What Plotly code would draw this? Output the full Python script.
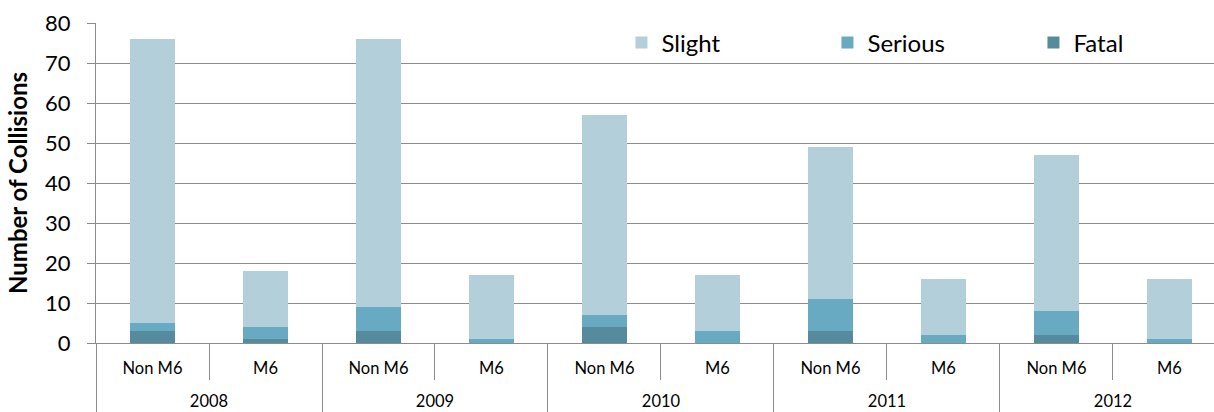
import plotly.graph_objects as go

# Collisions by year and road type, split by severity
years = ["2008", "2008", "2009", "2009", "2010", "2010", "2011", "2011", "2012", "2012"]
road = ["Non M6", "M6"] * 5
fatal = [3, 1, 3, 0, 4, 0, 3, 0, 2, 0]
serious = [2, 3, 6, 1, 3, 3, 8, 2, 6, 1]
slight = [71, 14, 67, 16, 50, 14, 38, 14, 39, 15]

colors = {"Slight": "#B3CFDA", "Serious": "#67AAC2", "Fatal": "#558B9C"}
font_family = "Lato, 'Open Sans', sans-serif"
axis_grey = "#8C8C8C"

# inner labels get a blank second line so the year row sits lower
road_labels = [r + "<br>\u00a0" for r in road]
x = [years, road_labels]

fig = go.Figure()
for name, vals in [("Fatal", fatal), ("Serious", serious), ("Slight", slight)]:
    fig.add_trace(go.Bar(
        x=x, y=vals, name=name,
        marker=dict(color=colors[name], line=dict(width=0)),
    ))

fig.update_layout(
    width=1214, height=412,
    margin=dict(l=96, r=0, t=23, b=69, autoexpand=False),
    barmode="stack",
    bargap=0.6,
    plot_bgcolor="white",
    paper_bgcolor="white",
    font=dict(family=font_family, color="#000000"),
    legend=dict(
        orientation="h",
        traceorder="reversed",
        x=0.47, xanchor="left",
        y=0.9375, yanchor="middle",
        font=dict(size=24, family=font_family),
        entrywidth=161, entrywidthmode="pixels",
        bgcolor="rgba(0,0,0,0)",
        itemclick=False,
    ),
    showlegend=True,
)

fig.update_yaxes(
    range=[0, 80], dtick=10,
    automargin=True,
    showgrid=True, gridcolor=axis_grey, gridwidth=1.3,
    showline=True, linecolor=axis_grey, linewidth=1.3,
    ticks="outside", ticklen=8, tickcolor=axis_grey, tickwidth=1.3,
    tickfont=dict(size=22, family=font_family),
    ticklabelstandoff=12,
    zeroline=False,
    title=dict(text="<b>Number of Collisions</b>", font=dict(size=24, family=font_family), standoff=10),
)

fig.update_xaxes(
    type="multicategory",
    range=[-0.5, 9.394],
    automargin=False,
    showline=True, linecolor=axis_grey, linewidth=1.3,
    ticks="outside", tickson="boundaries", ticklen=36, tickcolor=axis_grey, tickwidth=1.3,
    tickfont=dict(size=16.5, family=font_family),
    ticklabelstandoff=10,
    showdividers=True, dividercolor=axis_grey, dividerwidth=1.3,
    showgrid=False,
)

fig.write_html("out.html")
